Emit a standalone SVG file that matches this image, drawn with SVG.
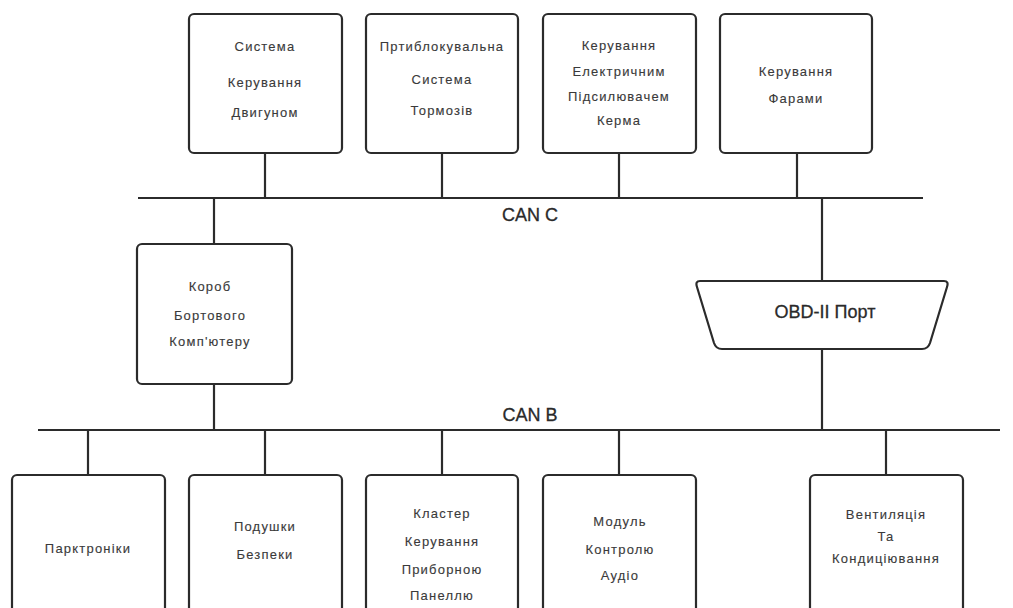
<svg xmlns="http://www.w3.org/2000/svg" width="1013" height="608" viewBox="0 0 1013 608">
  <style>
    .box { fill: #ffffff; stroke: #2b2b2b; stroke-width: 2.2; }
    .wire { fill: none; stroke: #2b2b2b; stroke-width: 2.2; }
    .lbl { font-family: "Liberation Sans", Arial, sans-serif; font-size: 13px; fill: #3a3a3a; text-anchor: middle; letter-spacing: 1.2px; stroke: #3a3a3a; stroke-width: 0.12; }
    .bus { font-family: "Liberation Sans", Arial, sans-serif; font-size: 18px; fill: #2a2a2a; text-anchor: middle; stroke: #2a2a2a; stroke-width: 0.3; }
  </style>
  <rect width="1013" height="608" fill="#ffffff"/>

  <!-- bus lines and stubs -->
  <g id="connectors">
    <line class="wire" x1="138" y1="198" x2="923" y2="198"/>
    <line class="wire" x1="38" y1="430" x2="1000" y2="430"/>
    <line class="wire" x1="265" y1="153" x2="265" y2="198"/>
    <line class="wire" x1="442" y1="153" x2="442" y2="198"/>
    <line class="wire" x1="619" y1="153" x2="619" y2="198"/>
    <line class="wire" x1="797" y1="153" x2="797" y2="198"/>
    <line class="wire" x1="214" y1="198" x2="214" y2="244"/>
    <line class="wire" x1="214" y1="384" x2="214" y2="430"/>
    <line class="wire" x1="822" y1="198" x2="822" y2="281"/>
    <line class="wire" x1="822" y1="349" x2="822" y2="430"/>
    <line class="wire" x1="88" y1="430" x2="88" y2="475"/>
    <line class="wire" x1="265" y1="430" x2="265" y2="475"/>
    <line class="wire" x1="442" y1="430" x2="442" y2="475"/>
    <line class="wire" x1="619" y1="430" x2="619" y2="475"/>
    <line class="wire" x1="886" y1="430" x2="886" y2="475"/>
  </g>

  <text class="bus" x="530" y="221">CAN C</text>
  <text class="bus" x="530" y="421">CAN B</text>

  <g id="engine">
    <rect class="box" x="189" y="14" width="153" height="139" rx="5"/>
    <text class="lbl" x="265" y="51">Система</text>
    <text class="lbl" x="265" y="87">Керування</text>
    <text class="lbl" x="265" y="117">Двигуном</text>
  </g>
  <g id="abs">
    <rect class="box" x="366" y="14" width="152" height="139" rx="5"/>
    <text class="lbl" x="442" y="51">Пртиблокувальна</text>
    <text class="lbl" x="442" y="84">Система</text>
    <text class="lbl" x="442" y="115">Тормозів</text>
  </g>
  <g id="steering">
    <rect class="box" x="543" y="14" width="153" height="139" rx="5"/>
    <text class="lbl" x="619" y="50">Керування</text>
    <text class="lbl" x="619" y="76">Електричним</text>
    <text class="lbl" x="619" y="101">Підсилювачем</text>
    <text class="lbl" x="619" y="125">Керма</text>
  </g>
  <g id="headlights">
    <rect class="box" x="720" y="14" width="152" height="139" rx="5"/>
    <text class="lbl" x="796" y="76">Керування</text>
    <text class="lbl" x="796" y="103">Фарами</text>
  </g>

  <g id="bcm">
    <rect class="box" x="137" y="244" width="155" height="140" rx="5"/>
    <text class="lbl" x="210" y="291">Короб</text>
    <text class="lbl" x="210" y="320">Бортового</text>
    <text class="lbl" x="210" y="346">Комп'ютеру</text>
  </g>

  <g id="obd">
    <path class="box" d="M700,281 H944 Q949,281 947,287 L930,343 Q928,349 922,349 H722 Q716,349 714,343 L697,287 Q695,281 700,281 Z"/>
    <text class="bus" x="825" y="318">OBD-II Порт</text>
  </g>

  <g id="parking">
    <rect class="box" x="12" y="475" width="153" height="150" rx="5"/>
    <text class="lbl" x="88" y="553">Парктроніки</text>
  </g>
  <g id="airbags">
    <rect class="box" x="189" y="475" width="153" height="150" rx="5"/>
    <text class="lbl" x="265" y="531">Подушки</text>
    <text class="lbl" x="265" y="559">Безпеки</text>
  </g>
  <g id="cluster">
    <rect class="box" x="366" y="475" width="152" height="150" rx="5"/>
    <text class="lbl" x="442" y="518">Кластер</text>
    <text class="lbl" x="442" y="546">Керування</text>
    <text class="lbl" x="442" y="574">Приборною</text>
    <text class="lbl" x="442" y="600">Панеллю</text>
  </g>
  <g id="audio">
    <rect class="box" x="543" y="475" width="153" height="150" rx="5"/>
    <text class="lbl" x="620" y="526">Модуль</text>
    <text class="lbl" x="620" y="554">Контролю</text>
    <text class="lbl" x="620" y="580">Аудіо</text>
  </g>
  <g id="hvac">
    <rect class="box" x="810" y="475" width="153" height="150" rx="5"/>
    <text class="lbl" x="886" y="519">Вентиляція</text>
    <text class="lbl" x="886" y="541">Та</text>
    <text class="lbl" x="886" y="563">Кондиціювання</text>
  </g>
</svg>
